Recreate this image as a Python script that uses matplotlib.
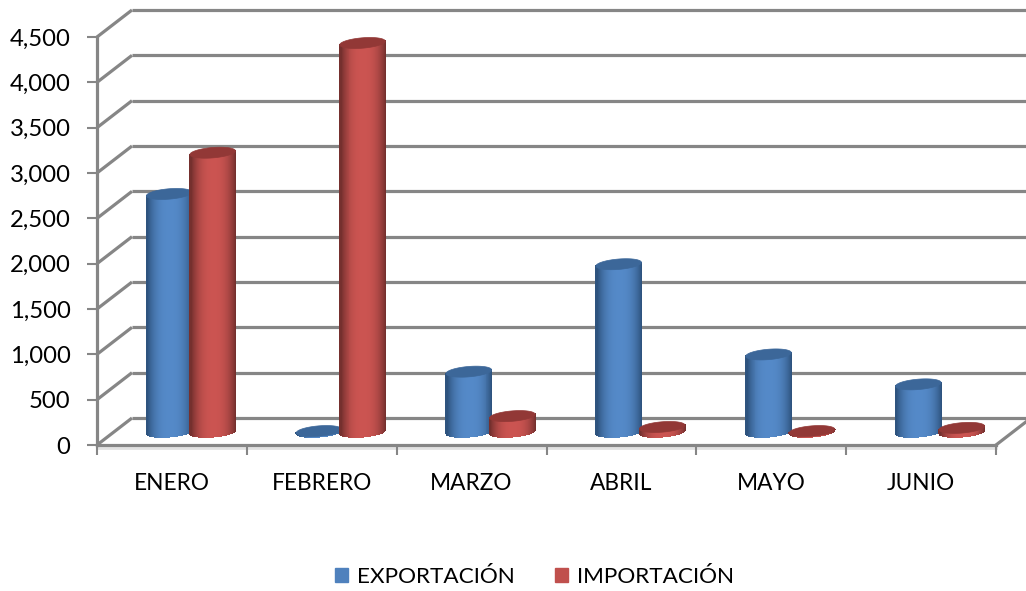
import matplotlib
matplotlib.use('Agg')
import matplotlib.pyplot as plt
from matplotlib.collections import PolyCollection
from matplotlib.patches import Patch, Polygon
import numpy as np

# Valores
meses = ['ENERO', 'FEBRERO', 'MARZO', 'ABRIL', 'MAYO', 'JUNIO']
exportacion = [2620, 5, 660, 1845, 850, 520]
importacion = [3075, 4285, 170, 50, 5, 40]
yticks = [0, 500, 1000, 1500, 2000, 2500, 3000, 3500, 4000, 4500]

plt.rcParams['font.family'] = ['Lato', 'DejaVu Sans']
GRIS = '#868686'
W, H = 1026, 591
LEFT, RIGHT, TOP, BOTTOM = 97, 996, 37, 445

fig = plt.figure(figsize=(W / 100, H / 100), dpi=100)
ax = fig.add_axes([LEFT / W, 1 - BOTTOM / H, (RIGHT - LEFT) / W, (BOTTOM - TOP) / H])
ax.set_xlim(0, len(meses))
ax.set_ylim(0, 4500)

# pixeles -> unidades de datos
px_x = len(meses) / (RIGHT - LEFT)
px_y = 4500 / (BOTTOM - TOP)
depth_x, depth_y = 35 * px_x, 27 * px_y
ancho = 45.5 * px_x


def elipse(cx, cy, t):
    # elipse algo inclinada, como la del cilindro 3D
    x = cx + ancho / 2 * np.cos(t)
    y = cy + 5.2 * px_y * np.sin(t) + 1.8 * px_y * np.cos(t)
    return x, y


def cilindro(cx, valor, centro, borde, tapa):
    cy = depth_y / 2
    n = 46
    t = np.arccos(np.linspace(-1, 1, n + 1)) + np.pi
    x, y0 = elipse(cx, cy, t)
    _, y1 = elipse(cx, cy + valor, t)
    tiras = []
    colores = []
    centro, borde = np.array(centro) / 255, np.array(borde) / 255
    for i in range(n):
        tiras.append([(x[i], y0[i]), (x[i + 1], y0[i + 1]), (x[i + 1], y1[i + 1]), (x[i], y1[i])])
        u = abs((x[i] + x[i + 1]) / 2 - cx) / (ancho / 2)
        colores.append(centro + (borde - centro) * u ** 2.6)
    ax.add_collection(PolyCollection(tiras, facecolors=colores, edgecolors=colores, linewidths=0.5,
                                     antialiaseds=False, zorder=3))
    tt = np.linspace(0, 2 * np.pi, 80)
    ex, ey = elipse(cx, cy + valor, tt)
    ax.add_patch(Polygon(np.column_stack([ex, ey]), closed=True, fc=tapa, ec=tapa, lw=0.5, zorder=3, clip_on=False))


# pared del fondo y lineas de profundidad
for v in yticks:
    ax.plot([0, depth_x], [v, v + depth_y], color=GRIS, lw=2.3, clip_on=False, zorder=1, solid_capstyle='butt')
    ax.plot([depth_x, len(meses) + depth_x], [v + depth_y, v + depth_y], color=GRIS, lw=2.3,
            clip_on=False, zorder=1, solid_capstyle='butt')
ax.plot([len(meses), len(meses) + depth_x], [0, depth_y], color=GRIS, lw=2.3, clip_on=False, zorder=1)

# sombra clara bajo el eje x
ax.plot([0, len(meses)], [-3 * px_y, -3 * px_y], color='#e2e2e2', lw=2, clip_on=False, zorder=1)

# cilindros
for i, e in enumerate(exportacion):
    centro = i + 0.5 + depth_x / 2 + 2.5 * px_x
    cilindro(centro - ancho / 2, e, (84, 137, 200), (44, 80, 122), '#3c6799')
for i, m in enumerate(importacion):
    centro = i + 0.5 + depth_x / 2 + 0.5 * px_x
    cilindro(centro + ancho / 2, m, (203, 84, 81), (112, 46, 44), '#923836')

ax.set_xticks(np.arange(len(meses) + 1))
ax.set_xticklabels([])
ax.set_xticks(np.arange(len(meses)) + 0.5, meses, minor=True)
ax.set_yticks(yticks, [f'{v:,}' for v in yticks])
ax.tick_params(axis='x', which='major', length=7, width=1.5, color=GRIS)
ax.tick_params(axis='x', which='minor', length=0, pad=20, labelsize=16.3, labelcolor='black')
ax.tick_params(axis='y', length=7, width=1.5, color=GRIS, pad=12, labelsize=17.2, labelcolor='black')
for lado in ['top', 'right']:
    ax.spines[lado].set_visible(False)
for lado in ['left', 'bottom']:
    ax.spines[lado].set_color(GRIS)
    ax.spines[lado].set_linewidth(2.3)
    ax.spines[lado].set_zorder(2)

fig.legend(handles=[Patch(color='#4f81bd', label='EXPORTACIÓN'), Patch(color='#c0504d', label='IMPORTACIÓN')],
           ncol=2, loc='center', bbox_to_anchor=(534.5 / W, 1 - 577 / H), frameon=False, fontsize=16.2,
           handlelength=0.6, handleheight=0.6, handletextpad=0.4, columnspacing=1.75)

fig.savefig('out.png', dpi=100)
